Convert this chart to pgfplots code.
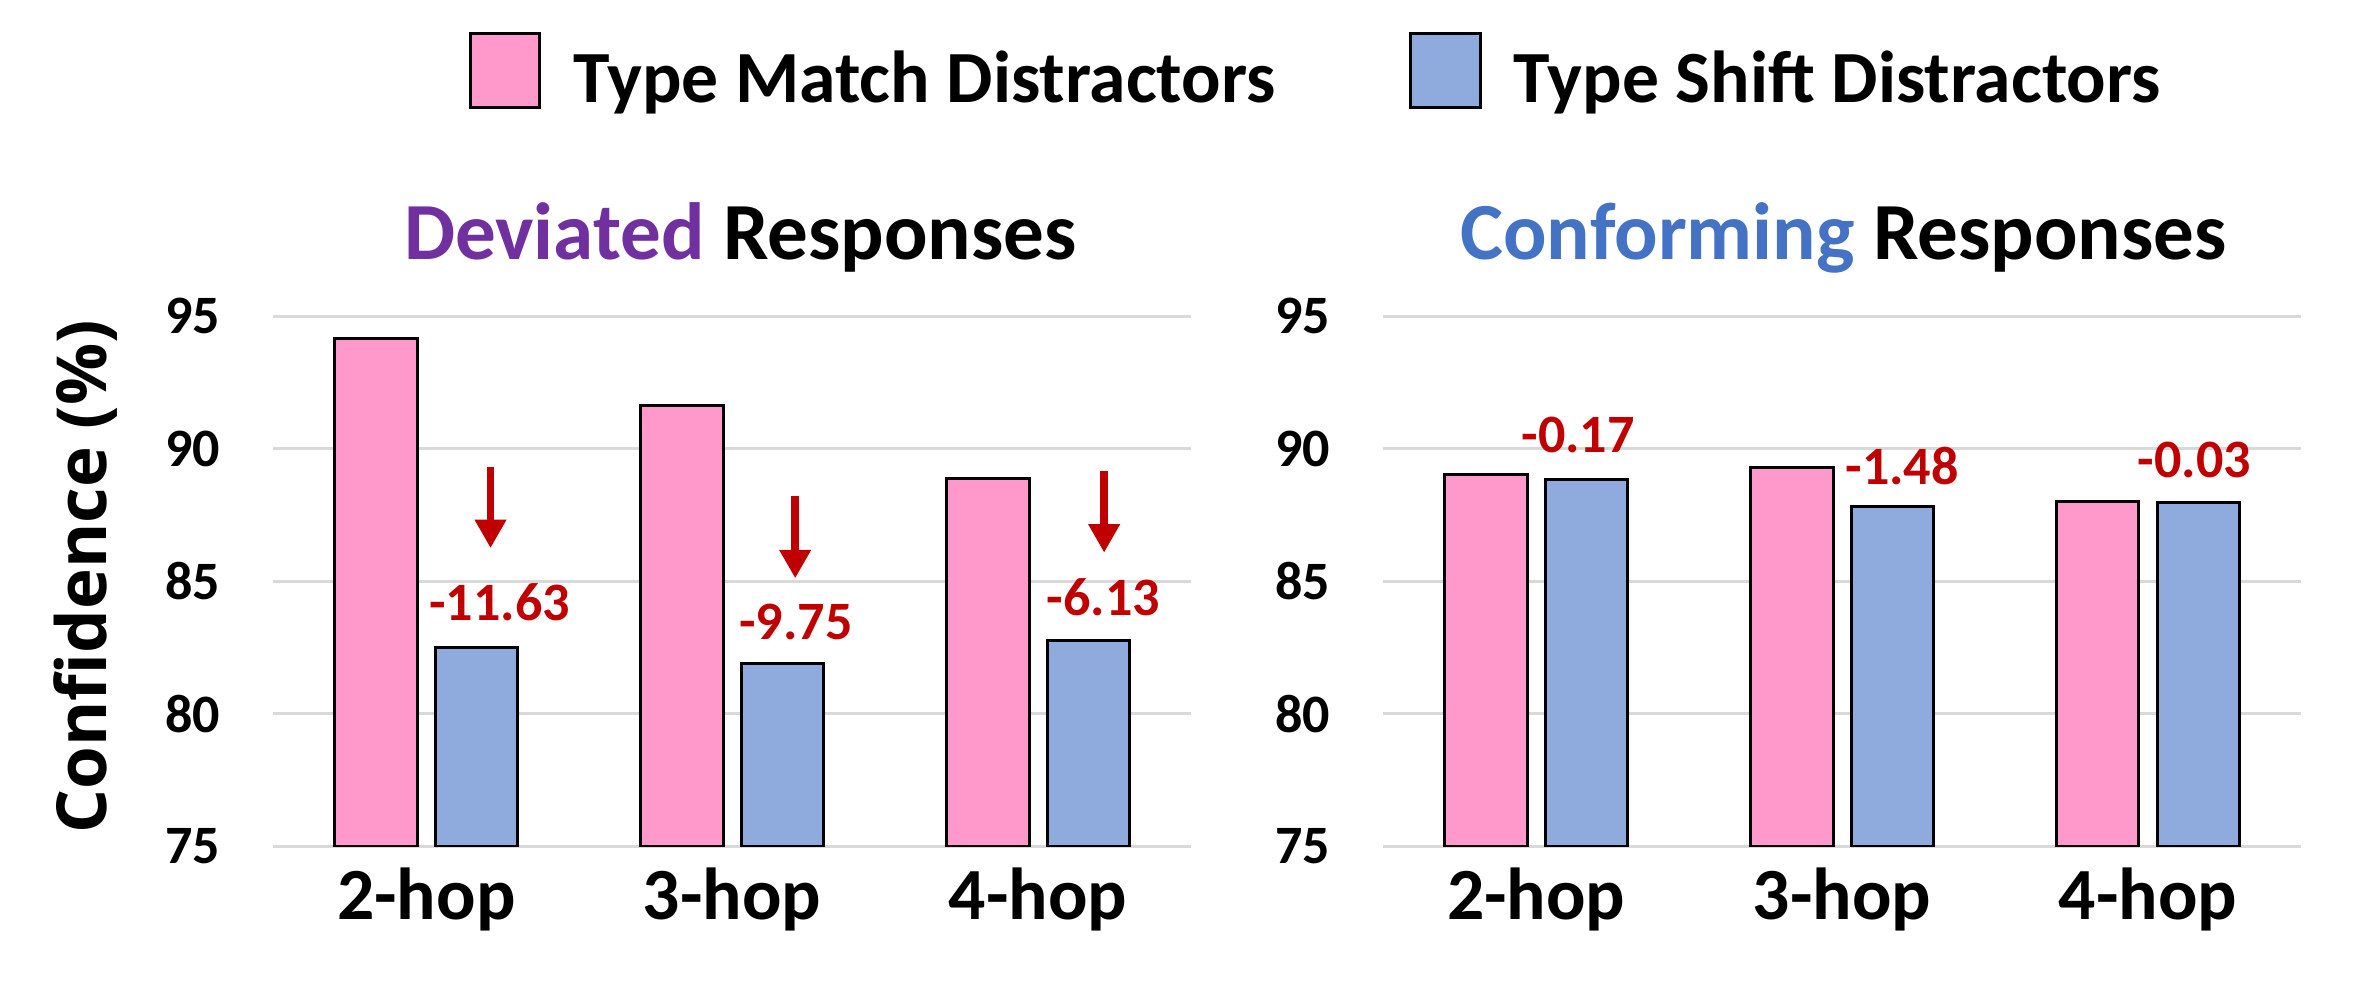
\documentclass[border=0pt]{standalone}
\usepackage{fontspec}
\setmainfont{Carlito}
\newfontfamily\osfont{Open Sans}
\usepackage{pgfplots}
\pgfplotsset{compat=1.18}
\usetikzlibrary{arrows.meta}
\definecolor{pinkbar}{HTML}{FF99CC}
\definecolor{bluebar}{HTML}{8FAADC}
\definecolor{gridgray}{HTML}{D9D9D9}
\definecolor{darkred}{HTML}{C00000}
\definecolor{titlepurple}{HTML}{7030A0}
\definecolor{titleblue}{HTML}{4472C4}

\tikzset{
 dropnote/.style={font=\fontsize{18}{20}\selectfont\bfseries, text=darkred, inner sep=0pt, anchor=center},
 droparrow/.style={draw=darkred, line width=2.5pt, -{Triangle[width=10pt,length=9.5pt]}},
}
\pgfplotsset{
 panel/.style={
  scale only axis, width=305.5pt, height=176.5pt,
  ymin=75, ymax=95, ytick={75,80,85,90,95},
  xmin=-0.5, xmax=2.5, xtick={0,1,2}, xticklabels={2-hop,3-hop,4-hop},
  axis line style={draw=none}, major tick length=0pt,
  ymajorgrids, grid style={gridgray, line width=0.9pt},
  /pgf/number format/assume math mode=true,
  yticklabel style={font=\fontsize{18}{20}\selectfont\bfseries, inner sep=0pt, anchor=east, xshift=-17.5pt},
  xticklabel style={font=\fontsize{24.5}{26}\selectfont\bfseries, inner sep=0pt, anchor=base, yshift=-24.5pt},
  ybar, bar width=27.5pt,
  legend image code/.code={\draw[#1, bar shift=0pt] (0pt,-9.6pt) rectangle (23pt,15.1pt);},
 },
 pinkstyle/.style={fill=pinkbar, draw=black, line width=1pt, bar shift=-16.75pt},
 bluestyle/.style={fill=bluebar, draw=black, line width=1pt, bar shift=16.75pt},
}

\pgfplotstableread{
x  match  shift
0  94.14  82.51
1  91.63  81.88
2  88.88  82.75
}\deviated
\pgfplotstableread{
x  match  shift
0  89.02  88.85
1  89.30  87.82
2  87.99  87.96
}\conforming

\begin{document}
\begin{tikzpicture}
\begin{axis}[panel, at={(91pt,45.5pt)}, anchor=south west,
  ylabel={\osfont\bfseries Confidence (\%)},
  ylabel style={font=\fontsize{23}{24}\selectfont, at={(axis description cs:-0.2046,0.5085)}, anchor=center},
  legend columns=2,
  legend style={draw=none, fill=none, at={(axis description cs:0.2128,1.4635)}, anchor=west,
    font=\fontsize{24.5}{26}\selectfont\bfseries, inner sep=0pt, outer sep=0pt,
    nodes={inner sep=0pt},
    /tikz/every even column/.append style={column sep=44.5pt},
    /tikz/every odd column/.append style={column sep=10.75pt}},
  legend cell align=left,
]
\addplot[pinkstyle] table[x=x, y=match] {\deviated};
\addlegendentry{Type Match Distractors}
\addplot[bluestyle] table[x=x, y=shift] {\deviated};
\addlegendentry{Type Shift Distractors}
\draw[droparrow] (axis cs:0.21,89.31) -- (axis cs:0.21,86.25);
\draw[droparrow] (axis cs:1.206,88.23) -- (axis cs:1.206,85.11);
\draw[droparrow] (axis cs:2.216,89.16) -- (axis cs:2.216,86.08);
\node[dropnote] at (axis cs:0.24,84.21) {-11.63};
\node[dropnote] at (axis cs:1.208,83.47) {-9.75};
\node[dropnote] at (axis cs:2.213,84.38) {-6.13};
\end{axis}
\begin{axis}[panel, at={(460.5pt,45.5pt)}, anchor=south west]
\addplot[pinkstyle] table[x=x, y=match] {\conforming};
\addplot[bluestyle] table[x=x, y=shift] {\conforming};
\node[dropnote] at (axis cs:0.137,90.52) {-0.17};
\node[dropnote] at (axis cs:1.196,89.36) {-1.48};
\node[dropnote] at (axis cs:2.152,89.59) {-0.03};
\end{axis}
\node[anchor=base, font=\fontsize{27}{30}\selectfont\bfseries, inner sep=0pt] at (246.5pt,240.9pt) {\textcolor{titlepurple}{Deviated} Responses};
\node[anchor=base, font=\fontsize{27}{30}\selectfont\bfseries, inner sep=0pt] at (613.75pt,240.9pt) {\textcolor{titleblue}{Conforming} Responses};
\pgfresetboundingbox
\path (0pt,0pt) rectangle (784pt,327.25pt);
\end{tikzpicture}
\end{document}
